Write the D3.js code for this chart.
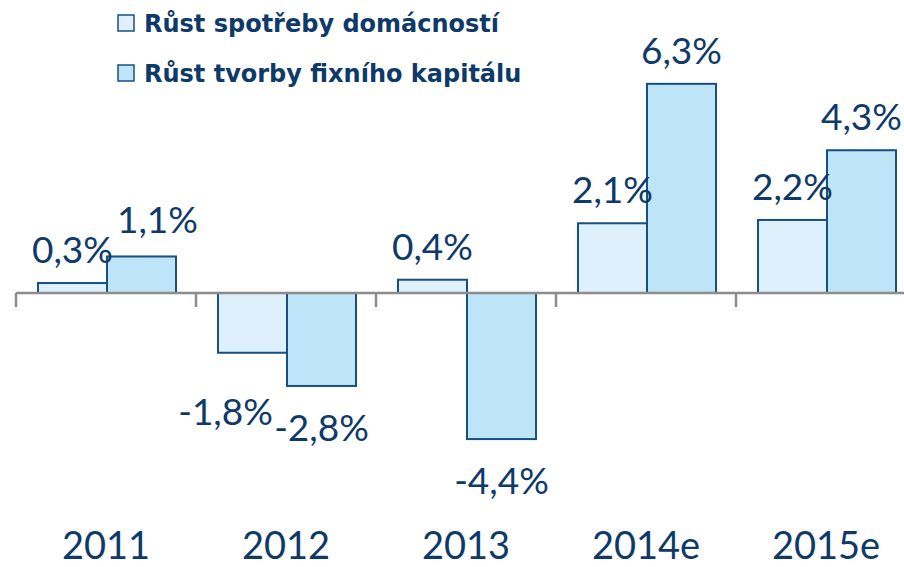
<!DOCTYPE html>
<html>
<head>
<meta charset="utf-8">
<script src="https://cdn.jsdelivr.net/npm/d3@7"></script>
<style>
  body { margin: 0; background: #fff; }
  text { font-family: Lato, "Open Sans", sans-serif; fill: #0e3a6a; }
</style>
</head>
<body>
<div id="chart"></div>
<script>
// data
const years = ["2011", "2012", "2013", "2014e", "2015e"];
const seriesNames = ["Růst spotřeby domácností", "Růst tvorby fixního kapitálu"];
const consumption = [0.3, -1.8, 0.4, 2.1, 2.2];
const investment = [1.1, -2.8, -4.4, 6.3, 4.3];

const W = 904, H = 567;
const colors = ["#def0fc", "#bee4f8"];
const strokeCol = "#174f80";

const svg = d3.select("#chart").append("svg")
  .attr("width", W)
  .attr("height", H);

const x = d3.scaleBand().domain(years).range([16, 916]);
const xs = d3.scaleBand().domain([0, 1]).range([22, 160]);
const y = d3.scaleLinear().domain([-5, 7]).range([459, 60.6]);

const rows = years.map((yr, i) => ({ year: yr, vals: [consumption[i], investment[i]] }));

// bars
const groups = svg.selectAll("g.grp").data(rows).enter().append("g")
  .attr("class", "grp")
  .attr("transform", d => "translate(" + x(d.year) + ",0)");

groups.selectAll("rect").data(d => d.vals).enter().append("rect")
  .attr("x", (v, k) => xs(k))
  .attr("y", v => y(Math.max(0, v)))
  .attr("width", xs.bandwidth())
  .attr("height", v => Math.abs(y(v) - y(0)))
  .attr("fill", (v, k) => colors[k])
  .attr("stroke", strokeCol)
  .attr("stroke-width", 2);

// axis at zero
const axis = d3.axisBottom(x).tickSize(14).tickFormat("");
const axG = svg.append("g")
  .attr("transform", "translate(0," + y(0) + ")")
  .call(axis);
axG.selectAll(".tick line").attr("transform", "translate(" + (-x.bandwidth() / 2) + ",0)");
axG.selectAll("path, line").attr("stroke", "#8c8c8c").attr("stroke-width", 2.5);
axG.select(".domain").attr("d", "M16,0H904");

// value labels (a couple nudged to avoid overlaps, like the original)
const nudge = { "0-1": [16, -3], "1-0": [-27, 17] };
const fmt = v => d3.format(".1f")(v).replace(".", ",").replace("−", "-") + "%";
groups.selectAll("text.val").data(d => d.vals.map((v, k) => ({ v, k, i: years.indexOf(d.year) })))
  .enter().append("text")
  .attr("class", "val")
  .attr("text-anchor", "middle")
  .attr("font-size", 37)
  .attr("x", d => xs(d.k) + xs.bandwidth() / 2 + (nudge[d.i + "-" + d.k] || [0, 0])[0])
  .attr("y", d => (d.v >= 0 ? y(d.v) - 20 : y(d.v) + 55) + (nudge[d.i + "-" + d.k] || [0, 0])[1])
  .text(d => fmt(d.v));

// category labels
svg.selectAll("text.year").data(years).enter().append("text")
  .attr("class", "year")
  .attr("text-anchor", "middle")
  .attr("font-size", 38)
  .attr("x", d => x(d) + x.bandwidth() / 2)
  .attr("y", 559)
  .text(d => d);

// legend
const leg = svg.selectAll("g.leg").data(seriesNames).enter().append("g")
  .attr("class", "leg")
  .attr("transform", (d, i) => "translate(118," + (15 + i * 50) + ")");
leg.append("rect")
  .attr("width", 16).attr("height", 16)
  .attr("fill", (d, i) => colors[i])
  .attr("stroke", strokeCol)
  .attr("stroke-width", 1.5);
leg.append("text")
  .attr("x", 26).attr("y", 17)
  .style("font-family", "'DejaVu Sans', sans-serif")
  .attr("font-size", 24)
  .attr("font-weight", "bold")
  .text(d => d);
</script>
</body>
</html>
